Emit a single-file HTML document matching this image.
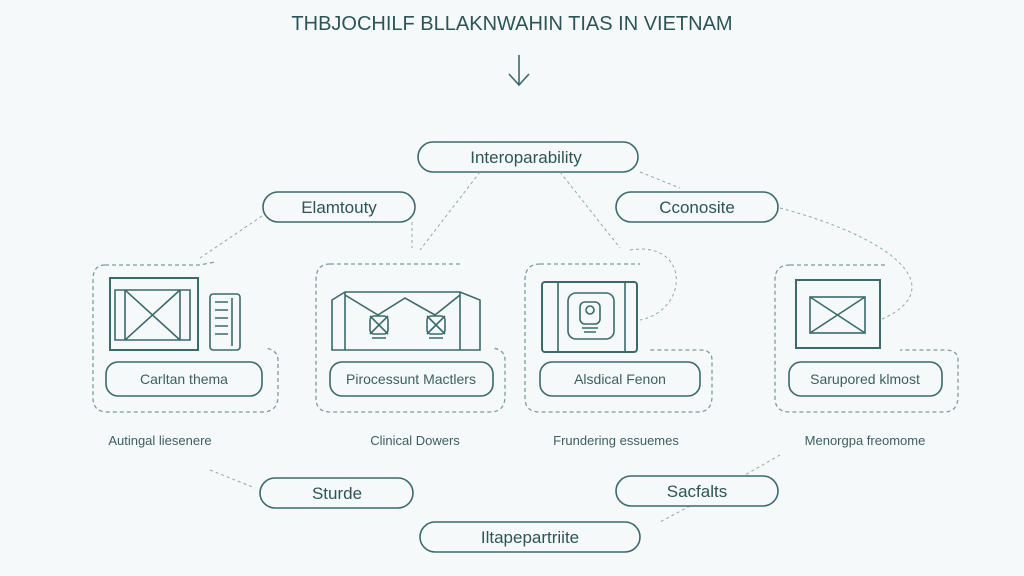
<!DOCTYPE html>
<html><head><style>
html,body{margin:0;padding:0;background:#f6f9f9;}
svg{display:block;font-family:"Liberation Sans",sans-serif;}
</style></head><body>
<svg width="1024" height="576" viewBox="0 0 1024 576">
<rect width="1024" height="576" fill="#f6f9f9"/>
<g fill="none" stroke="#3c6a6c">
<text x="512" y="30" text-anchor="middle" font-size="20" fill="#2c5557" stroke="none">THBJOCHILF BLLAKNWAHIN TIAS IN VIETNAM</text>
<path d="M519 55 V85 M509 74 L519 85 L529 74" stroke-width="1.6"/>
<!-- top pills -->
<rect x="418" y="142" width="220" height="30" rx="15" stroke-width="1.6"/>
<text x="526" y="163" text-anchor="middle" font-size="17" fill="#2c5557" stroke="none">Interoparability</text>
<rect x="263" y="192" width="152" height="30" rx="15" stroke-width="1.6"/>
<text x="339" y="213" text-anchor="middle" font-size="17" fill="#2c5557" stroke="none">Elamtouty</text>
<rect x="616" y="192" width="162" height="30" rx="15" stroke-width="1.6"/>
<text x="697" y="213" text-anchor="middle" font-size="17" fill="#2c5557" stroke="none">Cconosite</text>
<!-- connectors -->
<g stroke="#8fa9aa" stroke-width="1" stroke-dasharray="3 3">
<path d="M262 216 L200 258"/><path d="M412 222 V248"/>
<path d="M480 172 L420 250"/><path d="M560 172 L620 248"/>
<path d="M640 172 L680 188"/>
<path d="M630 250 C690 240 690 310 640 320"/>
<path d="M780 208 C900 240 950 290 880 320"/>
<path d="M210 470 L255 488"/><path d="M690 506 L660 522"/>
<path d="M780 455 L745 475"/>
</g>
<!-- cards -->
<g stroke="#7e9c9e" stroke-width="1.3" stroke-dasharray="4 3">
<path d="M105 265 H200 L215 262 M105 265 Q93 265 93 280 V398 Q93 412 108 412 H262 Q278 412 278 396 V360 Q278 350 265 348"/>
<path d="M330 264 H460 M330 264 Q316 264 316 280 V398 Q316 412 330 412 H490 Q505 412 505 396 V360 Q505 350 493 348"/>
<path d="M540 264 H640 M540 264 Q525 264 525 280 V398 Q525 412 540 412 H698 Q712 412 712 396 V360 Q712 350 700 350 H650"/>
<path d="M790 265 H885 M790 265 Q775 265 775 280 V398 Q775 412 790 412 H944 Q958 412 958 396 V360 Q958 350 945 350 H900"/>
</g>
<g stroke-width="1.6">
<rect x="106" y="362" width="156" height="34" rx="12"/>
<rect x="330" y="362" width="163" height="34" rx="12"/>
<rect x="540" y="362" width="160" height="34" rx="12"/>
<rect x="789" y="362" width="153" height="34" rx="12"/>
<!-- icon 1 -->
<rect x="110" y="278" width="88" height="72" stroke-width="2"/>
<path d="M115 290 H190 V340 H115 Z M125 290 V340 M180 290 V340 M125 290 L180 340 M180 290 L125 340"/>
<rect x="210" y="294" width="30" height="56" rx="3"/>
<path d="M232 298 V346 M215 302 H228 M215 310 H228 M215 318 H228 M215 326 H228 M215 334 H228"/>
<!-- icon 2 -->
<path d="M332 300 L345 292 H460 L480 300 V350 H332 Z M345 292 V350 M460 292 V350 M345 295 L378 315 L405 298 L435 315 L460 295"/>
<rect x="370" y="316" width="18" height="18" rx="4"/><path d="M370 316 L388 334 M388 316 L370 334 M372 338 H386"/>
<rect x="427" y="316" width="18" height="18" rx="4"/><path d="M427 316 L445 334 M445 316 L427 334 M429 338 H443"/>
<!-- icon 3 -->
<rect x="542" y="282" width="95" height="70" rx="3" stroke-width="2"/>
<path d="M558 282 V352 M625 282 V352"/>
<rect x="568" y="293" width="46" height="46" rx="8"/>
<rect x="580" y="302" width="20" height="22" rx="5"/><circle cx="590" cy="310" r="4"/><path d="M582 328 H598 M584 332 H596"/>
<!-- icon 4 -->
<rect x="796" y="280" width="84" height="68" stroke-width="2"/>
<rect x="810" y="297" width="55" height="36"/>
<path d="M810 297 L865 333 M865 297 L810 333"/>
</g>
<g font-size="14" fill="#3c5f61" stroke="none" text-anchor="middle">
<text x="184" y="384">Carltan thema</text>
<text x="411" y="384">Pirocessunt Mactlers</text>
<text x="620" y="384">Alsdical Fenon</text>
<text x="865" y="384">Sarupored klmost</text>
<text x="160" y="445" font-size="13">Autingal liesenere</text>
<text x="415" y="445" font-size="13">Clinical Dowers</text>
<text x="616" y="445" font-size="13">Frundering essuemes</text>
<text x="865" y="445" font-size="13">Menorgpa freomome</text>
</g>
<!-- bottom pills -->
<rect x="260" y="478" width="153" height="30" rx="15" stroke-width="1.6"/>
<text x="337" y="499" text-anchor="middle" font-size="17" fill="#2c5557" stroke="none">Sturde</text>
<rect x="616" y="476" width="162" height="30" rx="15" stroke-width="1.6"/>
<text x="697" y="497" text-anchor="middle" font-size="17" fill="#2c5557" stroke="none">Sacfalts</text>
<rect x="420" y="522" width="220" height="30" rx="15" stroke-width="1.6"/>
<text x="530" y="543" text-anchor="middle" font-size="17" fill="#2c5557" stroke="none">Iltapepartriite</text>
</g>
</svg>
</body></html>
